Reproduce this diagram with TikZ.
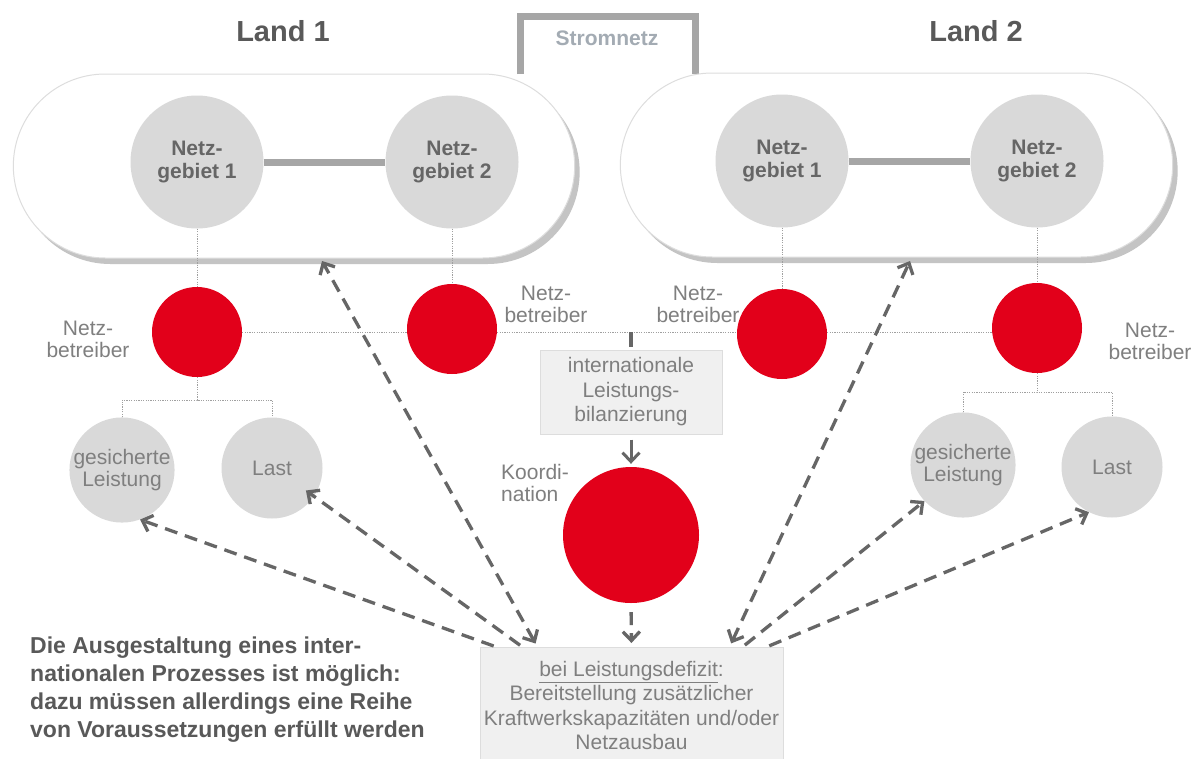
\documentclass[tikz,border=0pt]{standalone}
\usepackage{fontspec}
\setmainfont{Liberation Sans}
\usetikzlibrary{shapes.misc,shadows,arrows.meta,calc}
\definecolor{rd}{HTML}{E2001A}
\definecolor{cg}{HTML}{D9D9D9}
\definecolor{bx}{HTML}{F0F0F0}
\definecolor{bxl}{HTML}{DDDDDD}
\definecolor{tdark}{HTML}{595959}
\definecolor{tmid}{HTML}{666666}
\definecolor{tlt}{HTML}{7F7F7F}
\definecolor{ln}{HTML}{A6A6A6}
\definecolor{ar}{HTML}{666666}
\definecolor{dt}{HTML}{A0A0A0}
\definecolor{sh}{HTML}{C4C4C4}
\definecolor{sn}{HTML}{A3ABB3}
\begin{document}
\begin{tikzpicture}[x=1pt,y=-1pt,
  >={Straight Barb[length=9pt,width=17pt]},
  stadium/.style={rounded rectangle, draw=bxl, line width=1pt, fill=white,
    minimum width=568pt, minimum height=184pt,
    drop shadow={shadow xshift=5pt,shadow yshift=-6pt,fill=sh,opacity=1}},
  area/.style={circle, fill=cg, minimum size=133pt, inner sep=0pt, align=center,
    text=tmid, font=\fontsize{21}{23}\selectfont\bfseries},
  op/.style={circle, fill=rd, minimum size=90pt, inner sep=0pt},
  unit/.style={circle, fill=cg, minimum size=101pt, inner sep=0pt, align=center,
    text=tlt, font=\fontsize{21}{22}\selectfont},
  lbl/.style={align=center, text=tlt, font=\fontsize{21}{22}\selectfont, inner sep=0pt},
  title/.style={text=tdark, font=\fontsize{29}{32}\selectfont\bfseries, inner sep=0pt},
  infobox/.style={fill=bx, draw=bxl, line width=1pt, align=center, text=tlt,
    font=\fontsize{21}{24.5}\selectfont, inner sep=0pt},
  dotl/.style={draw=dt, line width=1pt, dash pattern=on 1.2pt off 1.2pt},
  link/.style={draw=ln, line width=7pt},
  darr/.style={draw=ar, line width=3.3pt, dash pattern=on 13pt off 8pt},
]
\useasboundingbox (0,0) rectangle (1196,758);
\fill[white] (0,0) rectangle (1196,758);

% Stromnetz bracket
\draw[link] (520,74) -- (520,16.5) -- (695,16.5) -- (695,74);
\node[text=sn, font=\fontsize{21}{24}\selectfont\bfseries, inner sep=0pt] (sn) at (607,38) {Stromnetz};

% countries
\node[stadium] (L1) at (294,166) {};
\node[stadium, minimum width=559pt] (L2) at (896.5,165) {};
\node[title] (t1) at (283,31) {Land 1};
\node[title] (t2) at (976,31) {Land 2};

% grid areas
\node[area] (g11) at (197,162) {Netz-\\gebiet 1};
\node[area] (g12) at (452,162) {Netz-\\gebiet 2};
\node[area] (g21) at (782,161) {Netz-\\gebiet 1};
\node[area] (g22) at (1037,161) {Netz-\\gebiet 2};
\draw[link] (g11) -- (g12);
\draw[link] (g21) -- (g22);

% operators
\node[op] (n11) at (197,332) {};
\node[op] (n12) at (452,329) {};
\node[op] (n21) at (782,334) {};
\node[op] (n22) at (1037,328) {};
\draw[dotl] (g11) -- (n11);
\draw[dotl] (g12) -- (n12);
\draw[dotl] (g21) -- (n21);
\draw[dotl] (g22) -- (n22);
\draw[dotl] (n11.east) -- (n11.east -| n12.west);
\draw[dotl] (n12.east |- n11) -- (n21.west |- n11);
\draw[dotl] (n21.east |- n11) -- (n22.west |- n11);

\node[lbl] (l11) at (88,339) {Netz-\\betreiber};
\node[lbl] (l12) at (546,304) {Netz-\\betreiber};
\node[lbl] (l21) at (698,304) {Netz-\\betreiber};
\node[lbl] (l22) at (1150,341) {Netz-\\betreiber};

% balancing box and coordination
\node[infobox, minimum width=182pt, minimum height=84pt] (ib) at (631,392) {internationale\\Leistungs-\\bilanzierung};
\coordinate (tk) at (ib.north |- n11);
\draw[draw=ar, line width=3.5pt, shorten >=3pt] (tk) -- (ib.north);
\node[circle, fill=rd, minimum size=136pt, inner sep=0pt] (ko) at (631,535) {};
\node[lbl, align=left, anchor=west] (kl) at (501,483) {Koordi-\\nation};
\draw[draw=ar, line width=3pt, ->, shorten <=5pt, shorten >=3pt] (ib.south) -- (ko.north);

% units
\node[unit] (u11) at (122,470) {gesicherte\\Leistung};
\node[unit] (u12) at (272,468) {Last};
\node[unit] (u21) at (963,465) {gesicherte\\Leistung};
\node[unit] (u22) at (1112,467) {Last};
\coordinate (b1) at (197,400);
\coordinate (b2) at (1037,392);
\draw[dotl] (n11) -- (b1);
\draw[dotl] (u11.north) |- (b1) -| (u12.north);
\draw[dotl] (n22) -- (b2);
\draw[dotl] (u21.north) |- (b2) -| (u22.north);

% deficit box
\node[infobox, minimum width=303pt, minimum height=116pt, anchor=north] (def) at (631.5,647)
  {\underline{bei Leistungsdefizit}:\\Bereitstellung zusätzlicher\\Kraftwerkskapazitäten und/oder\\Netzausbau};

% note
\node[align=left, anchor=west, text=tdark, font=\fontsize{23}{28}\selectfont\bfseries, inner sep=0pt] (note) at (30,690)
  {Die Ausgestaltung eines inter-\\nationalen Prozesses ist möglich:\\dazu müssen allerdings eine Reihe\\von Voraussetzungen erfüllt werden};

% dashed arrows
\coordinate (s1) at (322,261);
\coordinate (s2) at (910,261);
\draw[darr, <->, shorten <=4pt] ($(def.north west)+(58,0)$) -- (s1);
\draw[darr, ->, shorten <=3pt, shorten >=-10pt] ($(def.north west)+(43,0)$) -- (u12.-34);
\draw[darr, ->, shorten <=3pt] ($(def.north west)+(17,0)$) -- (u11.-70);
\draw[darr, <->, shorten <=4pt] ($(def.north west)+(250,0)$) -- (s2);
\draw[darr, ->, shorten <=3pt] ($(def.north west)+(263,0)$) -- (u21.223);
\draw[darr, ->, shorten <=3pt] ($(def.north west)+(287,0)$) -- (u22.243);
\draw[darr, ->, shorten <=9pt, shorten >=4pt] (ko.south) -- (def.north);
\end{tikzpicture}
\end{document}
